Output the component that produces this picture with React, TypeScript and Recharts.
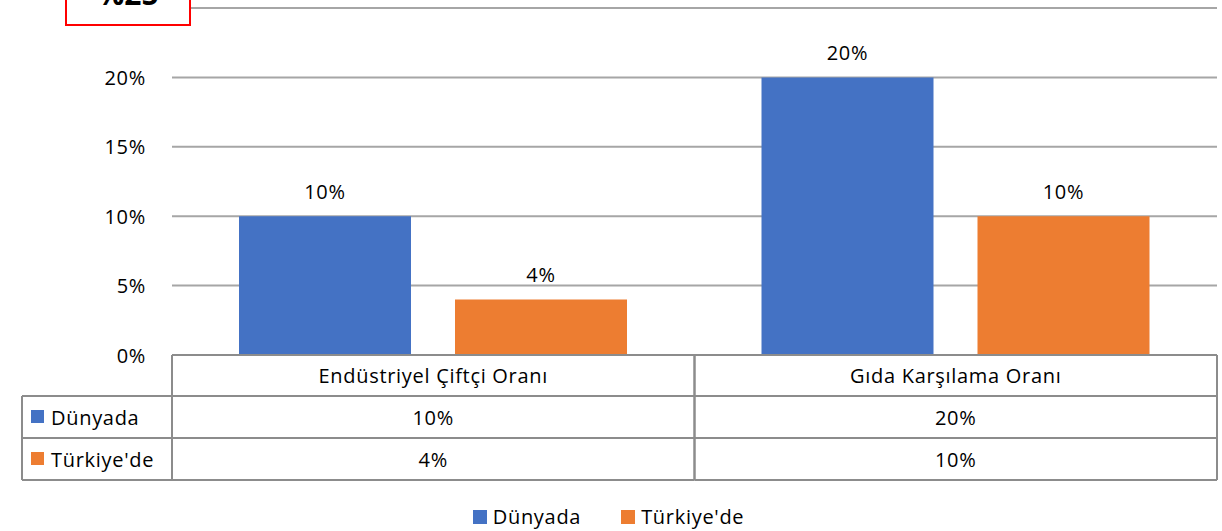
import React from 'react';
import { BarChart, Bar, XAxis, YAxis, CartesianGrid, LabelList, Legend } from 'recharts';

const categories = ['Endüstriyel Çiftçi Oranı', 'Gıda Karşılama Oranı'];
const dunyadaValues = [0.1, 0.2];
const turkiyedeValues = [0.04, 0.1];
const seriesNames = ['Dünyada', "Türkiye'de"];
const seriesColors = ['#4472C4', '#ED7D31'];
const yTicks = [0, 0.05, 0.1, 0.15, 0.2, 0.25];
const highlightedTick = 0.25;
const highlightedLabel = '%25';

const data = categories.map((name, i) => ({
  name,
  d: dunyadaValues[i],
  t: turkiyedeValues[i],
}));

const fmt = (v: number) => `${Math.round(v * 100)}%`;

const W = 1222;
const H = 531;
const PLOT_LEFT = 172;
const MARGIN_RIGHT = 5;
const PLOT_RIGHT = W - MARGIN_RIGHT;
const TABLE_LEFT = 22;
const ROW_H = [41, 42, 42];
const FONT = "'Open Sans', sans-serif";
const FS = 20;
const LS = 0.7;
const GRID = '#A6A6A6';
const BORDER = '#8C8C8C';

const band = (PLOT_RIGHT - PLOT_LEFT) / categories.length;

const YTick = (props: any) => {
  const { x, y, payload } = props;
  if (payload.value === highlightedTick) {
    const bx0 = 66;
    const bx1 = PLOT_LEFT + 18;
    return (
      <g>
        <rect x={bx0} y={y - 30} width={bx1 - bx0} height={47} fill="#fff" stroke="#FF0000" strokeWidth={2} />
        <text x={(bx0 + bx1) / 2} y={y - 3} textAnchor="middle" fontFamily={FONT} fontWeight="bold" fontSize={30} fill="#000">
          {highlightedLabel}
        </text>
      </g>
    );
  }
  return (
    <text x={x} y={y} textAnchor="end" dominantBaseline="central" fontFamily={FONT} fontSize={FS} letterSpacing={LS} fill="#000">
      {fmt(payload.value)}
    </text>
  );
};

const XTick = (props: any) => {
  const { x, y, index } = props;
  const x0 = x - band / 2;
  const x1 = x + band / 2;
  const r0 = y;
  const r1 = r0 + ROW_H[0];
  const r2 = r1 + ROW_H[1];
  const r3 = r2 + ROW_H[2];
  const rows = [r0, r1, r2, r3];
  const vals = [dunyadaValues[index], turkiyedeValues[index]];
  const txt = { fontFamily: FONT, fontSize: FS, letterSpacing: LS, fill: '#000' } as any;
  return (
    <g>
      {rows.map((ry, k) => (
        <line key={'h' + k} x1={x0} x2={x1} y1={ry} y2={ry} stroke={BORDER} strokeWidth={2} />
      ))}
      <line x1={x0} x2={x0} y1={r0} y2={r3} stroke={BORDER} strokeWidth={2} />
      <line x1={x1} x2={x1} y1={r0} y2={r3} stroke={BORDER} strokeWidth={2} />
      <text x={x} y={(r0 + r1) / 2} textAnchor="middle" dominantBaseline="central" {...txt}>
        {categories[index]}
      </text>
      {vals.map((v, k) => (
        <text key={'v' + k} x={x} y={(rows[k + 1] + rows[k + 2]) / 2} textAnchor="middle" dominantBaseline="central" {...txt}>
          {fmt(v)}
        </text>
      ))}
      {index === 0 && (
        <g>
          {[r1, r2, r3].map((ry, k) => (
            <line key={'lh' + k} x1={TABLE_LEFT} x2={x0} y1={ry} y2={ry} stroke={BORDER} strokeWidth={2} />
          ))}
          <line x1={TABLE_LEFT} x2={TABLE_LEFT} y1={r1} y2={r3} stroke={BORDER} strokeWidth={2} />
          {seriesNames.map((s, k) => {
            const cy = (rows[k + 1] + rows[k + 2]) / 2;
            return (
              <g key={'lg' + k}>
                <rect x={TABLE_LEFT + 9} y={cy - 7} width={13} height={13} fill={seriesColors[k]} />
                <text x={TABLE_LEFT + 29} y={cy} dominantBaseline="central" {...txt}>
                  {s}
                </text>
              </g>
            );
          })}
        </g>
      )}
    </g>
  );
};

const LegendContent = () => (
  <div
    style={{
      height: 51,
      display: 'flex',
      justifyContent: 'center',
      alignItems: 'flex-end',
      fontFamily: FONT,
      fontSize: FS,
      letterSpacing: LS,
      color: '#000',
      boxSizing: 'border-box',
      paddingBottom: 1,
    }}
  >
    {seriesNames.map((s, k) => (
      <div key={s} style={{ display: 'flex', alignItems: 'center', marginLeft: k === 0 ? 0 : 40 }}>
        <span style={{ display: 'inline-block', width: 14, height: 14, background: seriesColors[k], marginRight: 6 }} />
        <span>{s}</span>
      </div>
    ))}
  </div>
);

export default function App() {
  return (
    <div style={{ position: 'absolute', left: 0, top: 0, width: W, height: H, background: '#fff' }}>
      <BarChart
        width={W}
        height={H}
        data={data}
        margin={{ top: 8, right: MARGIN_RIGHT, left: 0, bottom: 0 }}
        barCategoryGap={67}
        barGap={44}
      >
        <CartesianGrid vertical={false} stroke={GRID} strokeWidth={2} />
        <YAxis
          width={PLOT_LEFT}
          domain={[0, 0.25]}
          ticks={yTicks}
          interval={0}
          axisLine={false}
          tickLine={false}
          tickSize={0}
          tickMargin={26}
          tick={<YTick />}
        />
        <XAxis
          dataKey="name"
          height={125}
          axisLine={{ stroke: BORDER, strokeWidth: 2 }}
          tickLine={false}
          tickSize={0}
          tickMargin={0}
          interval={0}
          tick={<XTick />}
        />
        <Legend verticalAlign="bottom" height={51} content={<LegendContent />} />
        <Bar dataKey="d" name={seriesNames[0]} fill={seriesColors[0]} isAnimationActive={false}>
          <LabelList dataKey="d" position="top" offset={17} formatter={(v: any) => fmt(v)} fontFamily={FONT} fontSize={FS} letterSpacing={LS} fill="#000" />
        </Bar>
        <Bar dataKey="t" name={seriesNames[1]} fill={seriesColors[1]} isAnimationActive={false}>
          <LabelList dataKey="t" position="top" offset={17} formatter={(v: any) => fmt(v)} fontFamily={FONT} fontSize={FS} letterSpacing={LS} fill="#000" />
        </Bar>
      </BarChart>
    </div>
  );
}
